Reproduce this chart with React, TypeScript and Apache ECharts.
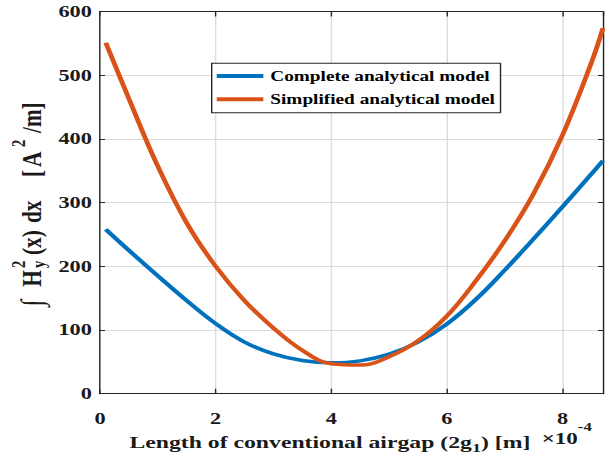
import React, { useEffect, useRef } from "react";
import * as echarts from "echarts";

// x in units of 1e-4 m
const xValues = [0.1, 0.5, 1.0, 1.5, 2.0, 2.5, 3.0, 3.5, 4.0, 4.5, 5.0, 5.5, 6.0, 6.5, 7.0, 7.5, 8.0, 8.5, 8.7];
const completeModel = [258, 225, 185, 146, 110, 81, 62.5, 52, 48.5, 51.5, 62, 81, 109.5, 148, 194, 243, 293.5, 345, 366];
const simplifiedModel = [551, 463, 357, 268, 200, 146, 103, 68, 47, 45, 58, 83, 122, 177, 240, 314, 406, 520, 574];
const seriesNames = ["Complete analytical model", "Simplified analytical model"];
const seriesColors = ["#0072BD", "#D95319"];
const xTitle = "Length of conventional airgap (2g{sub|1}) [m]";
const xExponent = "×10{sup|-4}";

const W = 440;
const H = 464;
const S = 614 / W;
const sx = (px: number) => px / S;

export default function App() {
  const ref = useRef<HTMLDivElement>(null);
  useEffect(() => {
    const chart = echarts.init(ref.current!, null, { renderer: "svg" });
    const font = "'Liberation Serif', 'Times New Roman', serif";
    const axisColor = "#262626";
    const gridColor = "#dcdcdc";
    const textColor = "#1a1a1a";

    const fsY = 19;
    const fsS = 13;
    const mainLy = -0.34 * fsY;
    const yLabelPieces = [
      { t: "∫", lx: 0, ly: -0.34 * 22, fs: 22 },
      { t: "H", lx: 19.8, ly: mainLy, fs: fsY },
      { t: "2", lx: 38.5, ly: -16.1, fs: fsS },
      { t: "y", lx: 38.5, ly: -2, fs: fsS },
      { t: "(x)", lx: 51.5, ly: mainLy, fs: fsY },
      { t: "dx", lx: 83.5, ly: mainLy, fs: fsY },
      { t: "[", lx: 129.5, ly: mainLy, fs: fsY },
      { t: "A", lx: 139.5, ly: mainLy, fs: fsY },
      { t: "2", lx: 159.5, ly: -16.1, fs: fsS },
      { t: "/m]", lx: 173.5, ly: mainLy, fs: fsY },
    ];

    const baseX = { type: "value" as const, min: 0, max: 8.7, interval: 2 };
    const baseY = { type: "value" as const, min: 0, max: 600, interval: 100 };

    const option: any = {
      animation: false,
      backgroundColor: "#ffffff",
      grid: {
        left: sx(100),
        right: W - sx(603),
        top: 11.5,
        bottom: H - 393.7,
        containLabel: false,
      },
      legend: {
        data: seriesNames,
        orient: "vertical",
        left: sx(211.7),
        top: 63.3,
        icon: "rect",
        itemWidth: 33.4,
        itemHeight: 4,
        itemGap: 7.3,
        padding: [4.7, 4, 5.4, 3.6],
        borderColor: "#262626",
        borderWidth: 1,
        backgroundColor: "#ffffff",
        selectedMode: false,
        textStyle: {
          fontFamily: font,
          fontWeight: "bold",
          fontSize: 13.8,
          color: "#000",
          lineHeight: 16,
        },
      },
      xAxis: [
        {
          ...baseX,
          position: "bottom",
          axisLine: { show: true, onZero: false, lineStyle: { color: axisColor, width: 1 } },
          axisTick: { show: true, inside: true, length: 5, lineStyle: { color: axisColor } },
          axisLabel: {
            show: true,
            margin: 17,
            showMaxLabel: false,
            fontFamily: font,
            fontWeight: "bold",
            fontSize: 16,
            color: textColor,
          },
          splitLine: { show: true, lineStyle: { color: gridColor, width: 1 } },
          name: xTitle,
          nameLocation: "middle",
          nameGap: 33.2,
          nameTextStyle: {
            fontFamily: font,
            fontWeight: "bold",
            fontSize: 17,
            color: textColor,
            lineHeight: 22,
            padding: [0, 31, 0, 0],
            rich: {
              sub: {
                fontFamily: font,
                fontWeight: "bold",
                fontSize: 13,
                lineHeight: 13,
                verticalAlign: "bottom",
                color: textColor,
              },
            },
          },
        },
        {
          ...baseX,
          position: "top",
          axisLine: { show: true, onZero: false, lineStyle: { color: axisColor, width: 1 } },
          axisTick: { show: true, inside: true, length: 5, lineStyle: { color: axisColor } },
          axisLabel: { show: false },
          splitLine: { show: false },
        },
      ],
      yAxis: [
        {
          ...baseY,
          position: "left",
          axisLine: { show: true, onZero: false, lineStyle: { color: axisColor, width: 1 } },
          axisTick: { show: true, inside: true, length: 3.6, lineStyle: { color: axisColor } },
          axisLabel: {
            show: true,
            margin: 5.8,
            fontFamily: font,
            fontWeight: "bold",
            fontSize: 16,
            color: textColor,
          },
          splitLine: { show: true, lineStyle: { color: gridColor, width: 1 } },
        },
        {
          ...baseY,
          position: "right",
          axisLine: { show: true, onZero: false, lineStyle: { color: axisColor, width: 1 } },
          axisTick: { show: true, inside: true, length: 3.6, lineStyle: { color: axisColor } },
          axisLabel: { show: false },
          splitLine: { show: false },
        },
      ],
      series: [completeModel, simplifiedModel].map((vals, i) => ({
        name: seriesNames[i],
        type: "line",
        xAxisIndex: 0,
        yAxisIndex: 0,
        data: xValues.map((x, j) => [x, vals[j]]),
        showSymbol: false,
        symbol: "none",
        smooth: 0.4,
        color: seriesColors[i],
        lineStyle: { width: 3.5, color: seriesColors[i] },
        z: 3,
      })),
      graphic: [
        {
          type: "group",
          x: sx(41.5),
          y: 306.5,
          rotation: Math.PI / 2,
          children: yLabelPieces.map((p) => ({
            type: "text",
            x: p.lx,
            y: p.ly,
            scaleX: 1.12,
            style: {
              text: p.t,
              fontFamily: font,
              fontWeight: "bold",
              fontSize: p.fs,
              fill: textColor,
              align: "left",
              verticalAlign: "middle",
            },
          })),
        },
        {
          type: "text",
          x: sx(541.7),
          y: 437.9,
          style: {
            text: xExponent,
            fontFamily: font,
            fontWeight: "bold",
            fontSize: 16.5,
            lineHeight: 34,
            fill: textColor,
            align: "left",
            verticalAlign: "middle",
            rich: {
              sup: {
                fontFamily: font,
                fontWeight: "bold",
                fontSize: 12,
                lineHeight: 13,
                verticalAlign: "top",
                fill: textColor,
              },
            },
          },
        },
      ],
    };
    chart.setOption(option);
    return () => chart.dispose();
  }, []);

  return (
    <div
      style={{
        position: "absolute",
        left: 0,
        top: 0,
        width: 614,
        height: 464,
        overflow: "hidden",
        background: "#ffffff",
      }}
    >
      <div
        ref={ref}
        style={{ width: W, height: H, transform: `scaleX(${S})`, transformOrigin: "0 0" }}
      />
    </div>
  );
}
